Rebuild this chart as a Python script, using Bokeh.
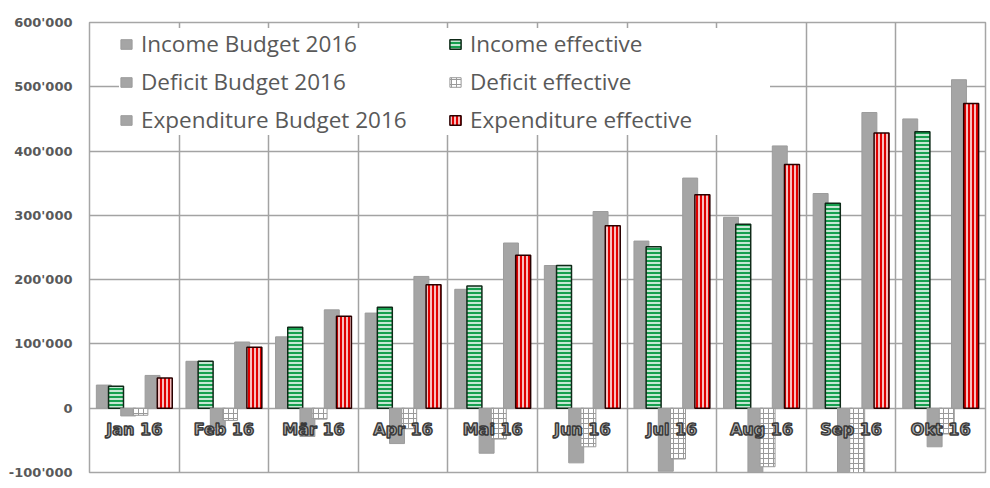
from bokeh.plotting import figure
from bokeh.models import Range1d, FixedTicker, Legend, LegendItem, ColumnDataSource
from bokeh.transform import dodge
from bokeh.core.properties import value
from bokeh.embed import file_html
from bokeh.resources import INLINE

months = ["Jan 16", "Feb 16", "Mär 16", "Apr 16", "Mai 16", "Jun 16",
          "Jul 16", "Aug 16", "Sep 16", "Okt 16"]
income_budget = [36000, 73000, 111000, 148000, 185000, 222000, 260000, 297000, 334000, 450000]
income_effective = [34000, 73000, 126000, 157000, 190000, 222000, 251000, 286000, 319000, 430000]
deficit_budget = [-12000, -30000, -44000, -55000, -70000, -85000, -98000, -111000, -126000, -60000]
deficit_effective = [-11000, -19000, -17000, -32000, -48000, -60000, -79000, -91000, -109000, -40000]
expenditure_budget = [51000, 103000, 153000, 205000, 257000, 306000, 358000, 408000, 460000, 511000]
expenditure_effective = [47000, 95000, 143000, 192000, 238000, 284000, 332000, 379000, 428000, 474000]

y_ticks = [-100000, 0, 100000, 200000, 300000, 400000, 500000, 600000]
y_tick_labels = ["-100'000", "0", "100'000", "200'000", "300'000", "400'000", "500'000", "600'000"]

n = len(months)
src = ColumnDataSource(dict(
    x=[i + 0.5 for i in range(n)],
    month=months,
    ib=income_budget, ie=income_effective,
    db=deficit_budget, de=deficit_effective,
    eb=expenditure_budget, ee=expenditure_effective,
))

p = figure(width=987, height=480, x_range=Range1d(0, n), y_range=Range1d(-100000, 600000),
           output_backend="svg", toolbar_location=None, x_axis_location=None,
           min_border_left=89, min_border_right=2, min_border_top=22, min_border_bottom=8)

p.outline_line_color = "#a6a6a6"
p.outline_line_width = 1.5
p.background_fill_color = "white"

ax = p.yaxis[0]
ax.ticker = FixedTicker(ticks=y_ticks)
ax.major_label_overrides = dict(zip(y_ticks, y_tick_labels))
ax.axis_line_color = None
ax.major_tick_line_color = None
ax.minor_tick_line_color = None
ax.major_label_standoff = 11
ax.major_label_text_font = "DejaVu Sans"
ax.major_label_text_font_style = "bold"
ax.major_label_text_font_size = "13px"
ax.major_label_text_color = "#595959"

p.ygrid.ticker = FixedTicker(ticks=y_ticks)
p.xgrid.ticker = FixedTicker(ticks=list(range(n + 1)))
for g in (p.xgrid, p.ygrid):
    g.grid_line_color = "#a3a3a3"
    g.grid_line_width = 1.5

W = 0.167
gray = "#a5a5a5"

r_ib = p.vbar(x=dodge("x", -0.34, range=p.x_range), top="ib", bottom=0, width=W, source=src,
              fill_color=gray, line_color="#9c9c9c", line_width=1)
r_ie = p.vbar(x=dodge("x", -0.204, range=p.x_range), top="ie", bottom=0, width=W, source=src,
              fill_color="#17a04f", hatch_pattern="horizontal_line", hatch_color="white",
              hatch_scale=4, hatch_weight=1.5, line_color="#0f2a18", line_width=1.5)
r_db = p.vbar(x=dodge("x", -0.068, range=p.x_range), top=0, bottom="db", width=W, source=src,
              fill_color=gray, line_color="#9c9c9c", line_width=1)
r_de = p.vbar(x=dodge("x", 0.068, range=p.x_range), top=0, bottom="de", width=W, source=src,
              fill_color="white", hatch_pattern="cross", hatch_color="#9a9a9a",
              hatch_scale=5, hatch_weight=1, line_color="#9a9a9a", line_width=1)
r_eb = p.vbar(x=dodge("x", 0.204, range=p.x_range), top="eb", bottom=0, width=W, source=src,
              fill_color=gray, line_color="#9c9c9c", line_width=1)
r_ee = p.vbar(x=dodge("x", 0.34, range=p.x_range), top="ee", bottom=0, width=W, source=src,
              fill_color="#e00000", hatch_pattern="vertical_line", hatch_color="white",
              hatch_scale=4, hatch_weight=1.5, line_color="#2a0000", line_width=1.5)

p.text(x="x", y=-33000, text="month", source=src, text_align="center", text_baseline="middle",
       text_font=value("DejaVu Sans"), text_font_style="bold", text_font_size="16px",
       text_color="#b4b4b4", text_outline_color="#3a3a3a")

legend = Legend(items=[
    LegendItem(label="Income Budget 2016", renderers=[r_ib]),
    LegendItem(label="Deficit Budget 2016", renderers=[r_db]),
    LegendItem(label="Expenditure Budget 2016", renderers=[r_eb]),
    LegendItem(label="Income effective", renderers=[r_ie]),
    LegendItem(label="Deficit effective", renderers=[r_de]),
    LegendItem(label="Expenditure effective", renderers=[r_ee]),
], ncols=2, location=(30, 337))
legend.label_text_font = "Open Sans"
legend.label_text_font_size = "22.5px"
legend.label_text_color = "#595959"
legend.glyph_width = 14
legend.glyph_height = 12
legend.label_standoff = 8
legend.spacing = 7
legend.label_height = 20
legend.label_width = 300
legend.padding = 4
legend.margin = 0
legend.border_line_color = None
legend.background_fill_color = "white"
legend.background_fill_alpha = 1.0
p.add_layout(legend)

open("out.html", "w").write(file_html(p, INLINE))
